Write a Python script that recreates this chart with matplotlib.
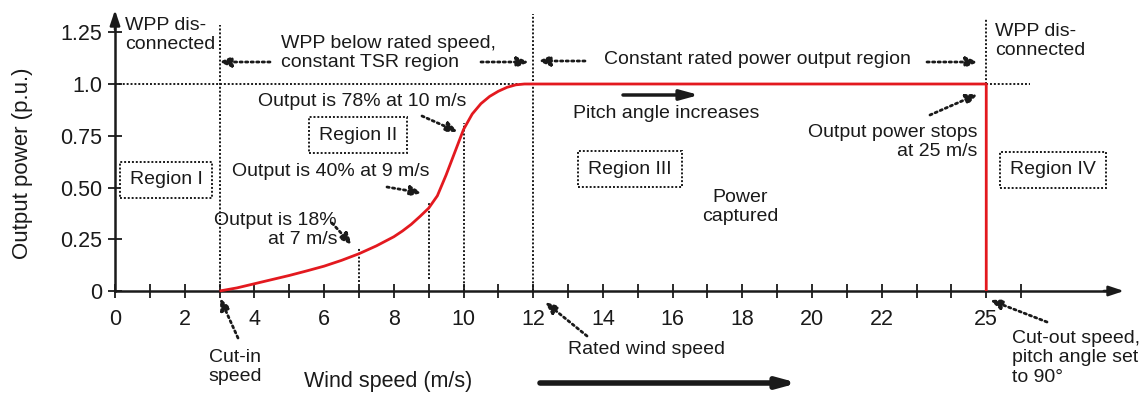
import matplotlib
matplotlib.use("Agg")
import matplotlib.pyplot as plt
from matplotlib.transforms import Affine2D

plt.rcParams["font.family"] = ["Liberation Sans", "DejaVu Sans"]

# ---- data -------------------------------------------------------------
# power curve of the wind power plant (p.u.) versus wind speed (m/s)
curve_speed = [3.0, 3.5, 4.0, 4.5, 5.0, 5.5, 6.0, 6.5, 7.0, 7.5, 8.0, 8.25,
               8.5, 8.75, 9.0, 9.25, 9.5, 9.75, 10.0, 10.25, 10.5, 10.75,
               11.0, 11.25, 11.5, 11.75, 12.0, 25.0, 25.0]
curve_power = [0.0, 0.015, 0.035, 0.055, 0.075, 0.097, 0.12, 0.148, 0.18,
               0.218, 0.262, 0.29, 0.322, 0.36, 0.40, 0.46, 0.56, 0.67,
               0.78, 0.855, 0.905, 0.94, 0.965, 0.984, 0.996, 1.0, 1.0,
               1.0, 0.0]

cut_in_speed = 3
rated_speed = 12
cut_out_speed = 25
rated_power = 1.0

marked_speed = [7, 9, 10]
marked_power = [0.18, 0.40, 0.78]

x_ticks = list(range(0, 27))
x_tick_labels = {0: "0", 2: "2", 4: "4", 6: "6", 8: "8", 10: "10", 12: "12",
                 14: "14", 16: "16", 18: "18", 20: "20", 22: "22", 25: "25"}
y_ticks = [0, 0.25, 0.5, 0.75, 1.0, 1.25]
y_tick_labels = ["0", "0.25", "0.50", "0.75", "1.0", "1.25"]

# ---- figure -----------------------------------------------------------
W, H = 1148, 398
fig = plt.figure(figsize=(W / 100, H / 100), dpi=100)
fig.patch.set_facecolor("white")

X_UNIT = 34.85   # pixels per m/s
Y_UNIT = 207.0   # pixels per p.u.
ax = fig.add_axes([115 / W, 107 / H, 1009 / W, 281 / H])
ax.set_xlim(0, 1009 / X_UNIT)
ax.set_ylim(0, 281 / Y_UNIT)
ax.patch.set_alpha(0)

# pixel layout coordinates measured from the top-left corner
P = Affine2D().scale(1 / W, -1 / H).translate(0, 1) + fig.transFigure

INK = "#1a1a1a"
RED = "#e3191f"
DOT = (0, (1, 1))

for s in ("top", "right"):
    ax.spines[s].set_visible(False)
for s in ("left", "bottom"):
    ax.spines[s].set_linewidth(1.8)
    ax.spines[s].set_color(INK)
ax.spines["bottom"].set_bounds(0, 1009 / X_UNIT - 0.3)
ax.spines["left"].set_bounds(0, 281 / Y_UNIT - 0.05)

# arrow heads on both axes
ax.annotate("", xy=(1, 0), xytext=(0.98, 0), xycoords="axes fraction",
            arrowprops=dict(arrowstyle="-|>,head_length=0.9,head_width=0.3",
                            lw=1.8, color=INK, shrinkA=0, shrinkB=0),
            annotation_clip=False)
ax.annotate("", xy=(0, 1), xytext=(0, 0.93), xycoords="axes fraction",
            arrowprops=dict(arrowstyle="-|>,head_length=0.9,head_width=0.3",
                            lw=1.8, color=INK, shrinkA=0, shrinkB=0),
            annotation_clip=False)

ax.set_xticks(x_ticks)
ax.set_xticklabels([x_tick_labels.get(t, "") for t in x_ticks])
ax.set_yticks(y_ticks)
ax.set_yticklabels(y_tick_labels)
ax.tick_params(axis="both", direction="inout", length=10, width=1.3,
               colors=INK, labelsize=15.5)
ax.tick_params(axis="x", pad=8)
ax.tick_params(axis="y", pad=4)

fig.text(23, 163, "Output power (p.u.)", transform=P, rotation=90,
         ha="center", va="center", fontsize=16, color=INK)
fig.text(388, 381, "Wind speed (m/s)", transform=P, ha="center",
         va="center", fontsize=15.5, color=INK)

# ---- region boundaries and guide lines --------------------------------
ax.plot([0, 26.25], [rated_power, rated_power], ls=DOT, lw=1.4, color=INK,
        clip_on=False)
ax.plot([cut_in_speed, cut_in_speed], [0, (291 - 25) / Y_UNIT], ls=DOT,
        lw=1.4, color=INK, clip_on=False)
ax.plot([rated_speed, rated_speed], [0, (291 - 14) / Y_UNIT], ls=DOT,
        lw=1.4, color=INK, clip_on=False)
ax.plot([cut_out_speed, cut_out_speed], [rated_power, (291 - 18) / Y_UNIT],
        ls=DOT, lw=1.4, color=INK, clip_on=False)
for s, p, low in zip(marked_speed, marked_power, [0.045, 0.06, 0.0]):
    ax.plot([s, s], [low, p + 0.03], ls=DOT, lw=1.4, color=INK)

# ---- power curve -------------------------------------------------------
ax.plot(curve_speed, curve_power, color=RED, lw=2.0, solid_capstyle="butt",
        solid_joinstyle="round", zorder=5, clip_on=False)


# ---- annotations -------------------------------------------------------
def dotted_arrow(tail, tip):
    ax.annotate("", xy=tip, xytext=tail, xycoords=P, textcoords=P,
                arrowprops=dict(arrowstyle="-|>,head_length=0.7,head_width=0.3",
                                lw=2.0, ls=(0, (0.8, 1.2)), color=INK,
                                shrinkA=0, shrinkB=0),
                annotation_clip=False)


def solid_arrow(tail, tip, lw):
    ax.annotate("", xy=tip, xytext=tail, xycoords=P, textcoords=P,
                arrowprops=dict(arrowstyle="-|>,head_length=1.1,head_width=0.3",
                                lw=lw, color=INK, shrinkA=0, shrinkB=0),
                annotation_clip=False)


def label(x, y, s, ha="left", box=False, fs=14):
    kw = dict(transform=P, ha=ha, va="center", fontsize=fs, color=INK,
              multialignment=ha if ha != "center" else "center")
    if box:
        kw["bbox"] = dict(boxstyle="square,pad=0.5", fc="white", ec=INK,
                          ls=(0, (1, 1)), lw=1.4)
    fig.text(x, y, s, **kw)


label(125, 35, "WPP dis-\nconnected")
label(281, 53, "WPP below rated speed,\nconstant TSR region")
dotted_arrow((270, 62), (219, 62))
dotted_arrow((481, 62), (529, 62))

label(604, 60, "Constant rated power output region")
dotted_arrow((585, 61), (538, 61))
dotted_arrow((927, 62), (978, 62))
label(995, 41, "WPP dis-\nconnected")

label(258, 102, "Output is 78% at 10 m/s")
dotted_arrow((422, 116), (458, 132))
label(358, 135, "Region II", ha="center", box=True)
label(232, 172, "Output is 40% at 9 m/s")
dotted_arrow((387, 187), (422, 193))
label(337, 230, "Output is 18%\nat 7 m/s", ha="right")
dotted_arrow((332, 223), (352, 245))
label(166, 180, "Region I", ha="center", box=True)

label(235, 367, "Cut-in\nspeed", ha="center")
dotted_arrow((238, 338), (220, 298))
label(568, 350, "Rated wind speed")
dotted_arrow((587, 336), (545, 302))

label(573, 114, "Pitch angle increases")
solid_arrow((623, 95), (699, 95), 2.5)
label(630, 169, "Region III", ha="center", box=True)
label(740, 207, "Power\ncaptured", ha="center")

label(977, 142, "Output power stops\nat 25 m/s", ha="right")
dotted_arrow((930, 115), (978, 94))
label(1053, 170, "Region IV", ha="center", box=True)

label(1012, 358, "Cut-out speed,\npitch angle set\nto 90°")
dotted_arrow((1047, 322), (990, 300))

solid_arrow((540, 383), (798, 383), 4.0)

fig.savefig("out.png", dpi=100, facecolor="white")
